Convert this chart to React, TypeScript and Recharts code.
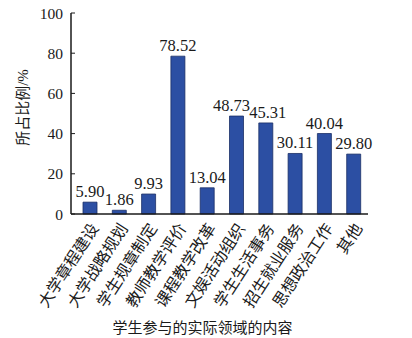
import React from 'react';
import { BarChart, Bar, XAxis, YAxis, LabelList } from 'recharts';

const categories = [
  '大学章程建设', '大学战略规划', '学生规章制定', '教师教学评价', '课程教学改革',
  '文娱活动组织', '学生生活事务', '招生就业服务', '思想政治工作', '其他',
];
const shares = [5.9, 1.86, 9.93, 78.52, 13.04, 48.73, 45.31, 30.11, 40.04, 29.8];
const yTicks = [0, 20, 40, 60, 80, 100];
const boundaryTicks = [1, 2, 3, 4, 5, 6, 7, 8, 9, 10];

const data = categories.map((name, i) => ({ name, value: shares[i] }));

// serif digits, CJK falls back to Noto
const NUM_FONT = "'Liberation Serif', 'DejaVu Serif', serif";
const CJK_FONT = "'Liberation Serif', 'DejaVu Serif', 'Noto Sans CJK SC'";
const INK = '#1a1a1a';

// the two neighbouring labels are nudged apart like in the original figure
const labelNudge: Record<number, number> = { 5: -5, 6: 2 };

function ValueLabel(props: any) {
  const { x, y, width, value, index } = props;
  const cx = Number(x) + Number(width) / 2 + (labelNudge[index] ?? 0);
  return (
    <text x={cx} y={Number(y) - 5} textAnchor="middle" fill={INK} fontSize={16.5}
      style={{ fontFamily: NUM_FONT }}>
      {Number(value).toFixed(2)}
    </text>
  );
}

export default function App() {
  return (
    <div style={{ position: 'absolute', left: 0, top: 0, width: 412, height: 338, background: '#fff' }}>
      <BarChart width={412} height={338} data={data}
        margin={{ top: 13, right: 44, left: 0, bottom: 0 }}>
        {/* short upward ticks between categories */}
        <XAxis xAxisId="b" type="number" domain={[0, 10]} ticks={boundaryTicks}
          tick={false} tickSize={-4} axisLine={false} height={0}
          padding={{ left: 4, right: 0 }} stroke={INK} />
        <XAxis dataKey="name" interval={0} height={124} tickLine={false}
          padding={{ left: 4, right: 0 }}
          axisLine={{ stroke: INK, strokeWidth: 1.5 }}
          angle={-57} textAnchor="end" tickMargin={2}
          tick={{ fill: INK, fontSize: 16, style: { fontFamily: CJK_FONT } }}
          label={{ value: '学生参与的实际领域的内容', position: 'insideBottom', offset: 5, dx: -17, fill: INK, fontSize: 15, style: { fontFamily: CJK_FONT } }} />
        <YAxis domain={[0, 100]} ticks={yTicks} width={71} tickSize={-4} tickMargin={12}
          axisLine={{ stroke: INK, strokeWidth: 1.5 }} stroke={INK}
          tick={{ fill: INK, fontSize: 15.5, style: { fontFamily: NUM_FONT } }}
          label={{ value: '所占比例/%', angle: -90, position: 'center', dx: -13, dy: -6, fill: INK, fontSize: 15, style: { fontFamily: CJK_FONT } }} />
        <Bar dataKey="value" fill="#2c4fa3" stroke="#1b2f66" strokeWidth={0.8} barSize={14} isAnimationActive={false}>
          <LabelList dataKey="value" content={ValueLabel} />
        </Bar>
      </BarChart>
    </div>
  );
}
